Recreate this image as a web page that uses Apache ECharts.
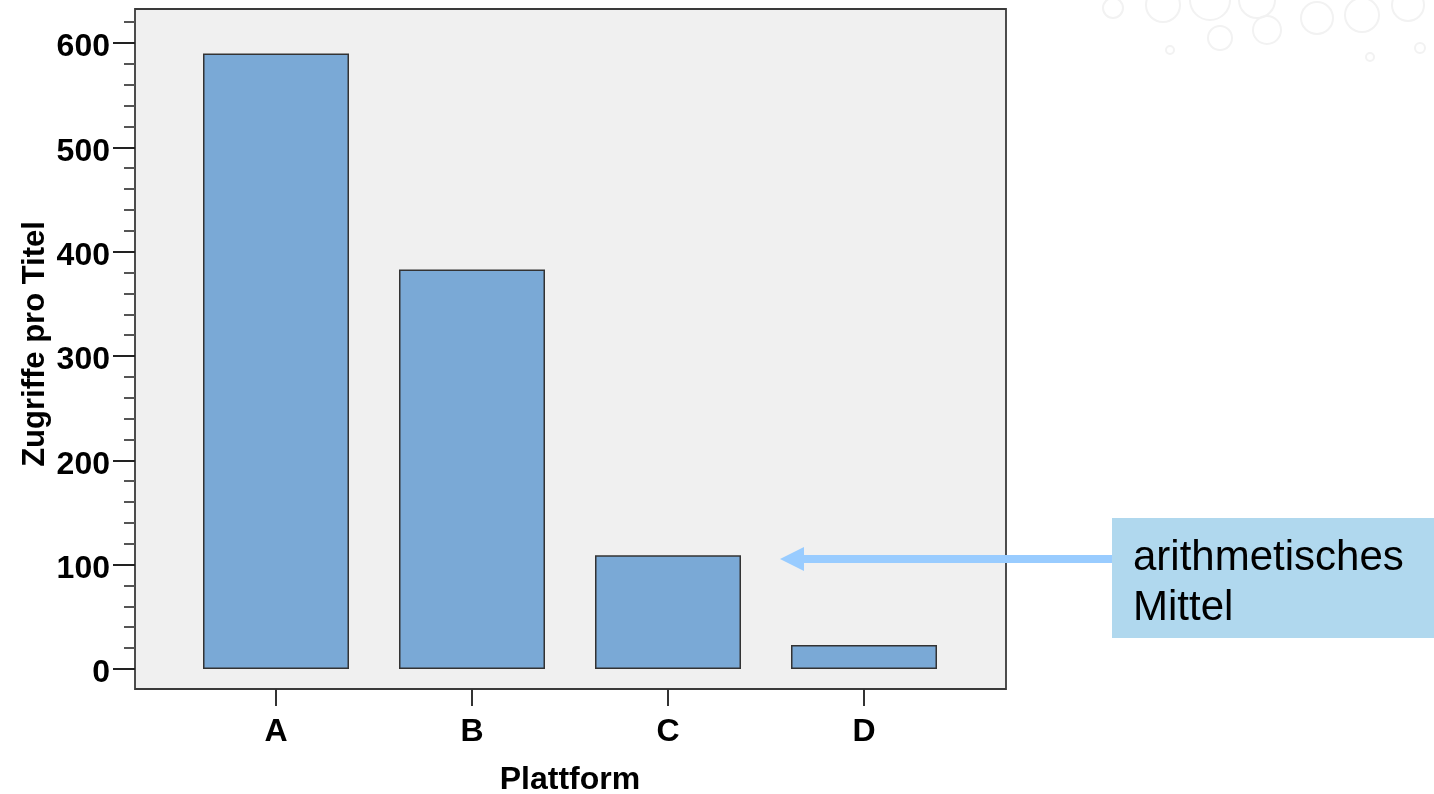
<!DOCTYPE html>
<html>
<head>
<meta charset="utf-8">
<script src="https://cdn.jsdelivr.net/npm/echarts@6/dist/echarts.min.js"></script>
<style>
  html, body { margin: 0; padding: 0; background: #ffffff; }
  #chart { width: 1434px; height: 794px; }
</style>
</head>
<body>
<div id="chart"></div>
<script>
// ---- data ----
const categories = ['A', 'B', 'C', 'D'];
const meanValues = [590, 383, 109, 23];
const majorTicks = [0, 100, 200, 300, 400, 500, 600];
const minorTicks = [20, 40, 60, 80, 120, 140, 160, 180, 220, 240, 260, 280, 320, 340, 360, 380, 420, 440, 460, 480, 520, 540, 560, 580, 620];
const xAxisTitle = 'Plattform';
const yAxisTitle = 'Zugriffe pro Titel';
const annotationText = 'arithmetisches\nMittel';

const yMin = -19.2, yMax = 632.6;
const FONT = '"Liberation Sans", Arial, sans-serif';

const chart = echarts.init(document.getElementById('chart'), null, { renderer: 'canvas' });

const bubbles = [
  [1113, 8, 10], [1163, 5, 17], [1210, 0, 20], [1257, 0, 18], [1220, 38, 12],
  [1267, 30, 14], [1317, 18, 16], [1362, 15, 17], [1408, 5, 16],
  [1170, 50, 4], [1370, 57, 4], [1420, 48, 5]
].map(b => ({
  type: 'circle', shape: { cx: b[0], cy: b[1], r: b[2] },
  style: { fill: 'none', stroke: '#f2f2f2', lineWidth: 2 }, silent: true, z: 0
}));

chart.setOption({
  animation: false,
  backgroundColor: '#ffffff',
  grid: [
    { left: 135, top: 9, width: 871, height: 680, containLabel: false, outerBoundsMode: 'none', show: true, backgroundColor: '#f0f0f0', borderColor: '#3a3a3a', borderWidth: 1.8 },
    { left: 178, top: 9, width: 784, height: 680, containLabel: false, outerBoundsMode: 'none' }
  ],
  xAxis: [
    { gridIndex: 0, type: 'value', show: false },
    {
      gridIndex: 1, type: 'category', data: categories, position: 'bottom',
      axisLine: { show: false, onZero: false },
      axisTick: { show: true, alignWithLabel: true, length: 17, lineStyle: { color: '#333', width: 2 } },
      axisLabel: { fontFamily: FONT, fontWeight: 'bold', fontSize: 32, color: '#000', margin: 27 },
      name: xAxisTitle, nameLocation: 'middle', nameGap: 75,
      nameTextStyle: { fontFamily: FONT, fontWeight: 'bold', fontSize: 32, color: '#000' }
    }
  ],
  yAxis: [
    {
      gridIndex: 0, type: 'value', min: yMin, max: yMax, position: 'left',
      axisLine: { show: false },
      splitLine: { show: false },
      axisTick: { show: true, length: 22, customValues: majorTicks, lineStyle: { color: '#222', width: 2 } },
      axisLabel: { customValues: majorTicks, fontFamily: FONT, fontWeight: 'bold', fontSize: 32, color: '#000', margin: 25, verticalAlign: 'top', lineHeight: 9 },
      name: yAxisTitle, nameLocation: 'middle', nameGap: 84, nameMoveOverlap: false,
      nameTextStyle: { fontFamily: FONT, fontWeight: 'bold', fontSize: 31, color: '#000', padding: [0, 0, 0, 10] }
    },
    {
      gridIndex: 0, type: 'value', min: yMin, max: yMax, position: 'left', offset: 0,
      axisLine: { show: false }, splitLine: { show: false },
      axisTick: { show: true, length: 11, customValues: minorTicks, lineStyle: { color: '#555', width: 2 } },
      axisLabel: { show: false }
    },
    {
      gridIndex: 1, type: 'value', min: yMin, max: yMax, show: false, splitLine: { show: false }
    }
  ],
  series: [{
    type: 'bar', xAxisIndex: 1, yAxisIndex: 2,
    data: meanValues, barWidth: 146,
    itemStyle: { color: '#7aa9d6', borderColor: '#333', borderWidth: 1.5 }
  }],
  graphic: bubbles.concat([
    { type: 'rect', shape: { x: 1112, y: 518, width: 322, height: 120 }, style: { fill: '#b0d8ee' }, z: 10 },
    { type: 'text', x: 1133, y: 583, style: { text: annotationText, fontFamily: FONT, fontSize: 42, fill: '#000', lineHeight: 50, verticalAlign: 'middle' }, z: 11 },
    { type: 'line', shape: { x1: 800, y1: 559, x2: 1112, y2: 559 }, style: { stroke: '#99ccff', lineWidth: 8 }, z: 10 },
    { type: 'polygon', shape: { points: [[780, 559], [804, 547], [804, 571]] }, style: { fill: '#99ccff' }, z: 10 }
  ])
});
</script>
</body>
</html>
